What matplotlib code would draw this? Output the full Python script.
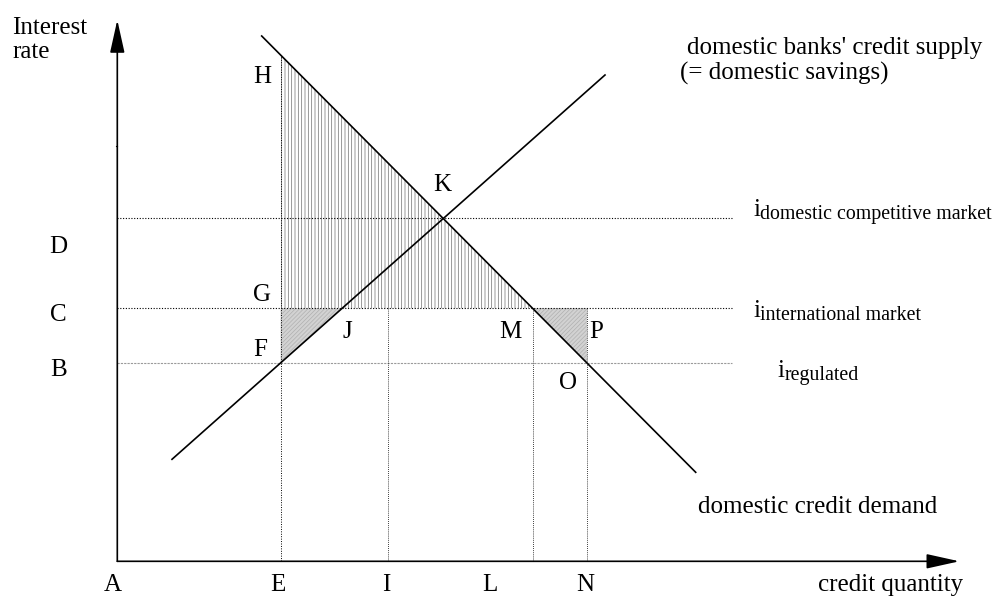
import numpy as np
import matplotlib.pyplot as plt
from matplotlib.patches import Polygon

plt.rcParams['font.family'] = ['Liberation Serif', 'DejaVu Serif']
plt.rcParams['hatch.linewidth'] = 0.5

# rates on the vertical axis (origin A = 0,0)
rate_names = ['B', 'C', 'D']
rates = [198.6, 253.0, 343.6]
rate_subs = ['regulated', 'international market', 'domestic competitive market']

# quantities on the horizontal axis
qty_names = ['A', 'E', 'I', 'L', 'N']
qtys = [0.0, 163.4, 271.0, 416.0, 470.0]

# supply and demand lines (end points)
supply_x = [54.7, 487.7]
supply_y = [102.0, 486.3]
demand_x = [144.4, 578.4]
demand_y = [525.3, 89.0]

x_tip = 842.0
y_tip = 541.3

fig = plt.figure(figsize=(9.98, 5.97), dpi=100)
ax = fig.add_axes([0, 0, 1, 1])
ax.set_xlim(-117.3, 880.7)
ax.set_ylim(-35.7, 561.3)
ax.axis('off')


def demand_at(q):
    return demand_y[0] + (demand_y[1] - demand_y[0]) * (q - demand_x[0]) / (demand_x[1] - demand_x[0])


def demand_q(r):
    return demand_x[0] + (r - demand_y[0]) * (demand_x[1] - demand_x[0]) / (demand_y[1] - demand_y[0])


def supply_q(r):
    return supply_x[0] + (r - supply_y[0]) * (supply_x[1] - supply_x[0]) / (supply_y[1] - supply_y[0])


rB, rC, rD = rates
qE, qI, qL, qN = qtys[1:]

# shaded areas
hE = demand_at(qE)
qM = demand_q(rC)
qJ = supply_q(rC)
ax.add_patch(Polygon([[qE, hE], [qM, rC], [qE, rC]], closed=True, facecolor='white',
                     edgecolor='#707070', hatch='|||||', lw=0, zorder=1))
ax.add_patch(Polygon([[qE, rC], [qJ, rC], [qE, rB]], closed=True, facecolor='#d2d2d2',
                     edgecolor='#b0b0b0', hatch='////////', lw=0, zorder=1))
ax.add_patch(Polygon([[qM, rC], [qN, rC], [qN, rB]], closed=True, facecolor='#d2d2d2',
                     edgecolor='#b0b0b0', hatch='////////', lw=0, zorder=1))

# horizontal guide lines
h_end = 614.7
ax.plot([0, h_end], [rD, rD], color='black', lw=0.8, ls=(0, (1, 1.5)), zorder=2)
ax.plot([0, h_end], [rC, rC], color='black', lw=0.8, ls=(0, (1, 1.5)), zorder=2)
ax.plot([0, h_end], [rB, rB], color='#9a9a9a', lw=0.8, ls=(0, (2, 1)), zorder=2)

# vertical guide lines
ax.plot([qE, qE], [0, hE], color='black', lw=0.7, ls=(0, (1, 1.5)), zorder=2)
for q in [qI, qL, qN]:
    ax.plot([q, q], [0, rC], color='black', lw=0.6, ls=(0, (1, 1.5)), zorder=2)

# supply & demand
ax.plot(supply_x, supply_y, color='black', lw=1.2, zorder=3)
ax.plot(demand_x, demand_y, color='black', lw=1.2, zorder=3)

# axes with arrows
arrow = dict(arrowstyle='-|>,head_length=1.35,head_width=0.3', color='black', lw=1.2,
             mutation_scale=15, shrinkA=0, shrinkB=0)
ax.annotate('', xy=(x_tip, 0), xytext=(0, 0), arrowprops=arrow)
ax.annotate('', xy=(0, y_tip), xytext=(0, 0), arrowprops=arrow)
ax.plot([-1.5, 0], [415.6, 415.6], color='black', lw=0.8)

fs = 18
ax.text(-105, 544, 'Interest\nrate', fontsize=fs, ha='left', va='top', linespacing=1.12)
ax.text(846, -24, 'credit quantity', fontsize=fs, ha='right', va='center')

label_y = -24
label_dx = [-5, -3, -2, -43, -2]
for name, q, dx in zip(qty_names, qtys, label_dx):
    ax.text(q + dx, label_y, name, fontsize=fs, ha='center', va='center')

label_off = [-7, -7, -29]
for name, r, dy in zip(rate_names, rates, label_off):
    ax.text(-59, r + dy, name, fontsize=fs, ha='center', va='center')

# point labels
pts = {'H': (145, 484), 'G': (145, 266), 'F': (143, 211), 'J': (230, 229),
       'K': (325, 376), 'M': (393, 229), 'P': (479, 229), 'O': (451, 178)}
for name, (x, y) in pts.items():
    ax.text(x, y, name, fontsize=fs, ha='center', va='center')

# rate labels on the right
sub_x = [660, 636, 636]
sub_dy = [-14.5, -8.5, 2.0]
for sub, r, x, dy in zip(rate_subs, rates, sub_x, sub_dy):
    t = ax.text(x, r + dy, 'i', fontsize=fs, ha='left', va='baseline')
    ax.annotate(sub, xy=(1, r + dy - 3), xycoords=(t, 'data'),
                fontsize=14.3, ha='left', va='baseline')

ax.text(570, 513, "domestic banks' credit supply", fontsize=fs, ha='left', va='center')
ax.text(563, 488, '(= domestic savings)', fontsize=fs, ha='left', va='center')
ax.text(820, 54, 'domestic credit demand', fontsize=fs, ha='right', va='center')

fig.savefig('out.png', dpi=100)
